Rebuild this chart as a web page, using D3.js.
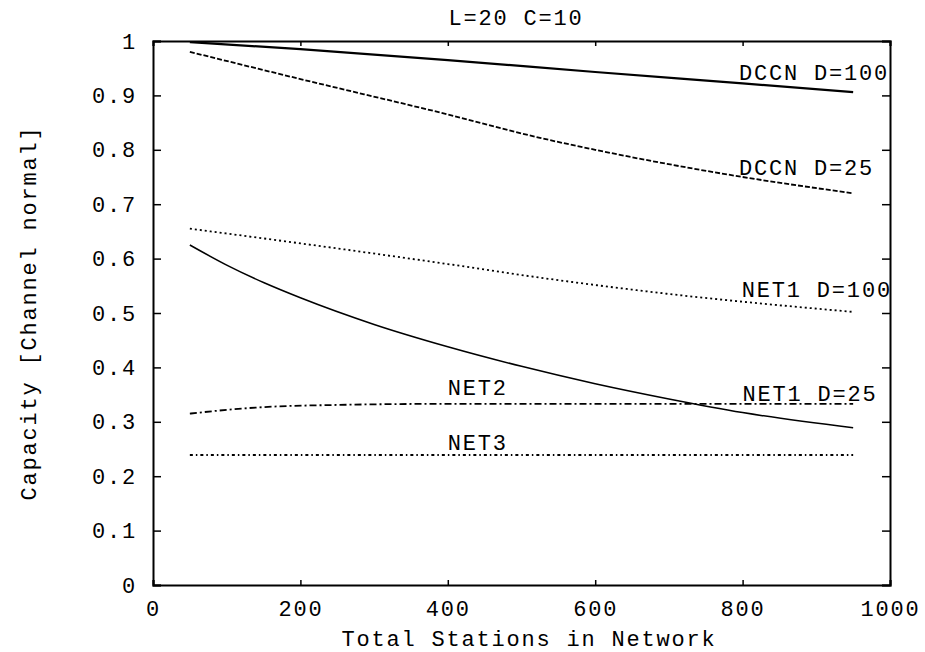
<!DOCTYPE html>
<html>
<head>
<meta charset="utf-8">
<script src="https://cdn.jsdelivr.net/npm/d3@7"></script>
<style>
  body { margin: 0; background: #fff; }
  text { font-family: "Liberation Mono", "DejaVu Sans Mono", monospace; fill: #000; letter-spacing: 1.8px; }
</style>
</head>
<body>
<div id="chart"></div>
<script>
// data (x = total stations, y = capacity)
var dccn100 = [[50, 0.998], [200, 0.985], [400, 0.965], [600, 0.943], [800, 0.922], [950, 0.906]];
var dccn25 = [[50, 0.98], [200, 0.93], [400, 0.865], [525, 0.822], [600, 0.80], [800, 0.75], [950, 0.72]];
var net1d100 = [[50, 0.655], [200, 0.628], [400, 0.59], [525, 0.565], [700, 0.535], [950, 0.502]];
var net1d25 = [[50, 0.625], [100, 0.588], [150, 0.556], [200, 0.528], [300, 0.479], [400, 0.438], [500, 0.402], [600, 0.37], [700, 0.342], [800, 0.317], [950, 0.289]];
var net2 = [[50, 0.315], [100, 0.322], [150, 0.327], [250, 0.331], [400, 0.333], [950, 0.333]];
var net3 = [[50, 0.239], [500, 0.239], [950, 0.239]];

var xTicks = [0, 200, 400, 600, 800, 1000];
var yTicks = [0, 0.1, 0.2, 0.3, 0.4, 0.5, 0.6, 0.7, 0.8, 0.9, 1];

// curve labels, anchored in data units (left end, vertical middle)
var curveLabels = [
  {text: "DCCN D=100", x: 795, y: 0.943},
  {text: "DCCN D=25", x: 795, y: 0.768},
  {text: "NET1 D=100", x: 799, y: 0.544},
  {text: "NET1 D=25", x: 800, y: 0.353},
  {text: "NET2", x: 400, y: 0.363},
  {text: "NET3", x: 400, y: 0.263}
];

var margin = {top: 41, right: 35, bottom: 67, left: 153},
    width = 925 - margin.left - margin.right,
    height = 652 - margin.top - margin.bottom;

var svg = d3.select("#chart")
  .append("svg")
  .attr("width", 925)
  .attr("height", 652);

var chartGroup = svg.append("g")
  .attr("transform", `translate(${margin.left}, ${margin.top})`);

var xScale = d3.scaleLinear().domain([0, 1000]).range([0, width]);
var yScale = d3.scaleLinear().domain([0, 1]).range([height, 0]);

// axes - ticks point inward, mirrored on top/right
var bottomAxis = d3.axisBottom(xScale).tickValues(xTicks).tickSize(-5).tickPadding(15)
  .tickFormat(d3.format("d"));
var leftAxis = d3.axisLeft(yScale).tickValues(yTicks).tickSize(-8).tickPadding(16)
  .tickFormat(d => d === 0 || d === 1 ? String(d) : d3.format(".1f")(d));
var topAxis = d3.axisTop(xScale).tickValues(xTicks).tickSize(-5).tickFormat("");
var rightAxis = d3.axisRight(yScale).tickValues(yTicks).tickSize(-8).tickFormat("");

chartGroup.append("g").attr("transform", `translate(0, ${height})`).call(bottomAxis);
chartGroup.append("g").call(leftAxis);
chartGroup.append("g").call(topAxis);
chartGroup.append("g").attr("transform", `translate(${width}, 0)`).call(rightAxis);

chartGroup.selectAll(".domain").attr("stroke", "#000").attr("stroke-width", 2);
chartGroup.selectAll(".tick line").attr("stroke", "#000").attr("stroke-width", 1.5);
chartGroup.selectAll(".tick text").style("font-size", "22px").attr("fill", "#000");

// lines
var line = d3.line()
  .x(d => xScale(d[0]))
  .y(d => yScale(d[1]))
  .curve(d3.curveMonotoneX);

var series = [
  {data: dccn100, dash: null, w: 2.2},
  {data: dccn25, dash: "5,2", w: 1.8},
  {data: net1d100, dash: "2,3", w: 1.8},
  {data: net1d25, dash: null, w: 1.5},
  {data: net2, dash: "7,3,2,3", w: 1.8},
  {data: net3, dash: "3,3,1.5,3", w: 1.8}
];

chartGroup.selectAll(".curve")
  .data(series)
  .enter()
  .append("path")
  .attr("class", "curve")
  .attr("d", d => line(d.data))
  .attr("fill", "none")
  .attr("stroke", "#000")
  .attr("stroke-width", d => d.w)
  .attr("stroke-dasharray", d => d.dash);

chartGroup.selectAll(".clabel")
  .data(curveLabels)
  .enter()
  .append("text")
  .attr("class", "clabel")
  .attr("x", d => xScale(d.x))
  .attr("y", d => yScale(d.y))
  .attr("dy", "0.35em")
  .style("font-size", "22px")
  .text(d => d.text);

// title and axis titles
svg.append("text")
  .attr("x", 516)
  .attr("y", 25)
  .attr("text-anchor", "middle")
  .style("font-size", "22px")
  .text("L=20 C=10");

svg.append("text")
  .attr("x", 529)
  .attr("y", 646)
  .attr("text-anchor", "middle")
  .style("font-size", "22px")
  .text("Total Stations in Network");

svg.append("text")
  .attr("transform", "rotate(-90)")
  .attr("x", -(margin.top + height / 2))
  .attr("y", 36)
  .attr("text-anchor", "middle")
  .style("font-size", "22px")
  .text("Capacity [Channel normal]");
</script>
</body>
</html>
